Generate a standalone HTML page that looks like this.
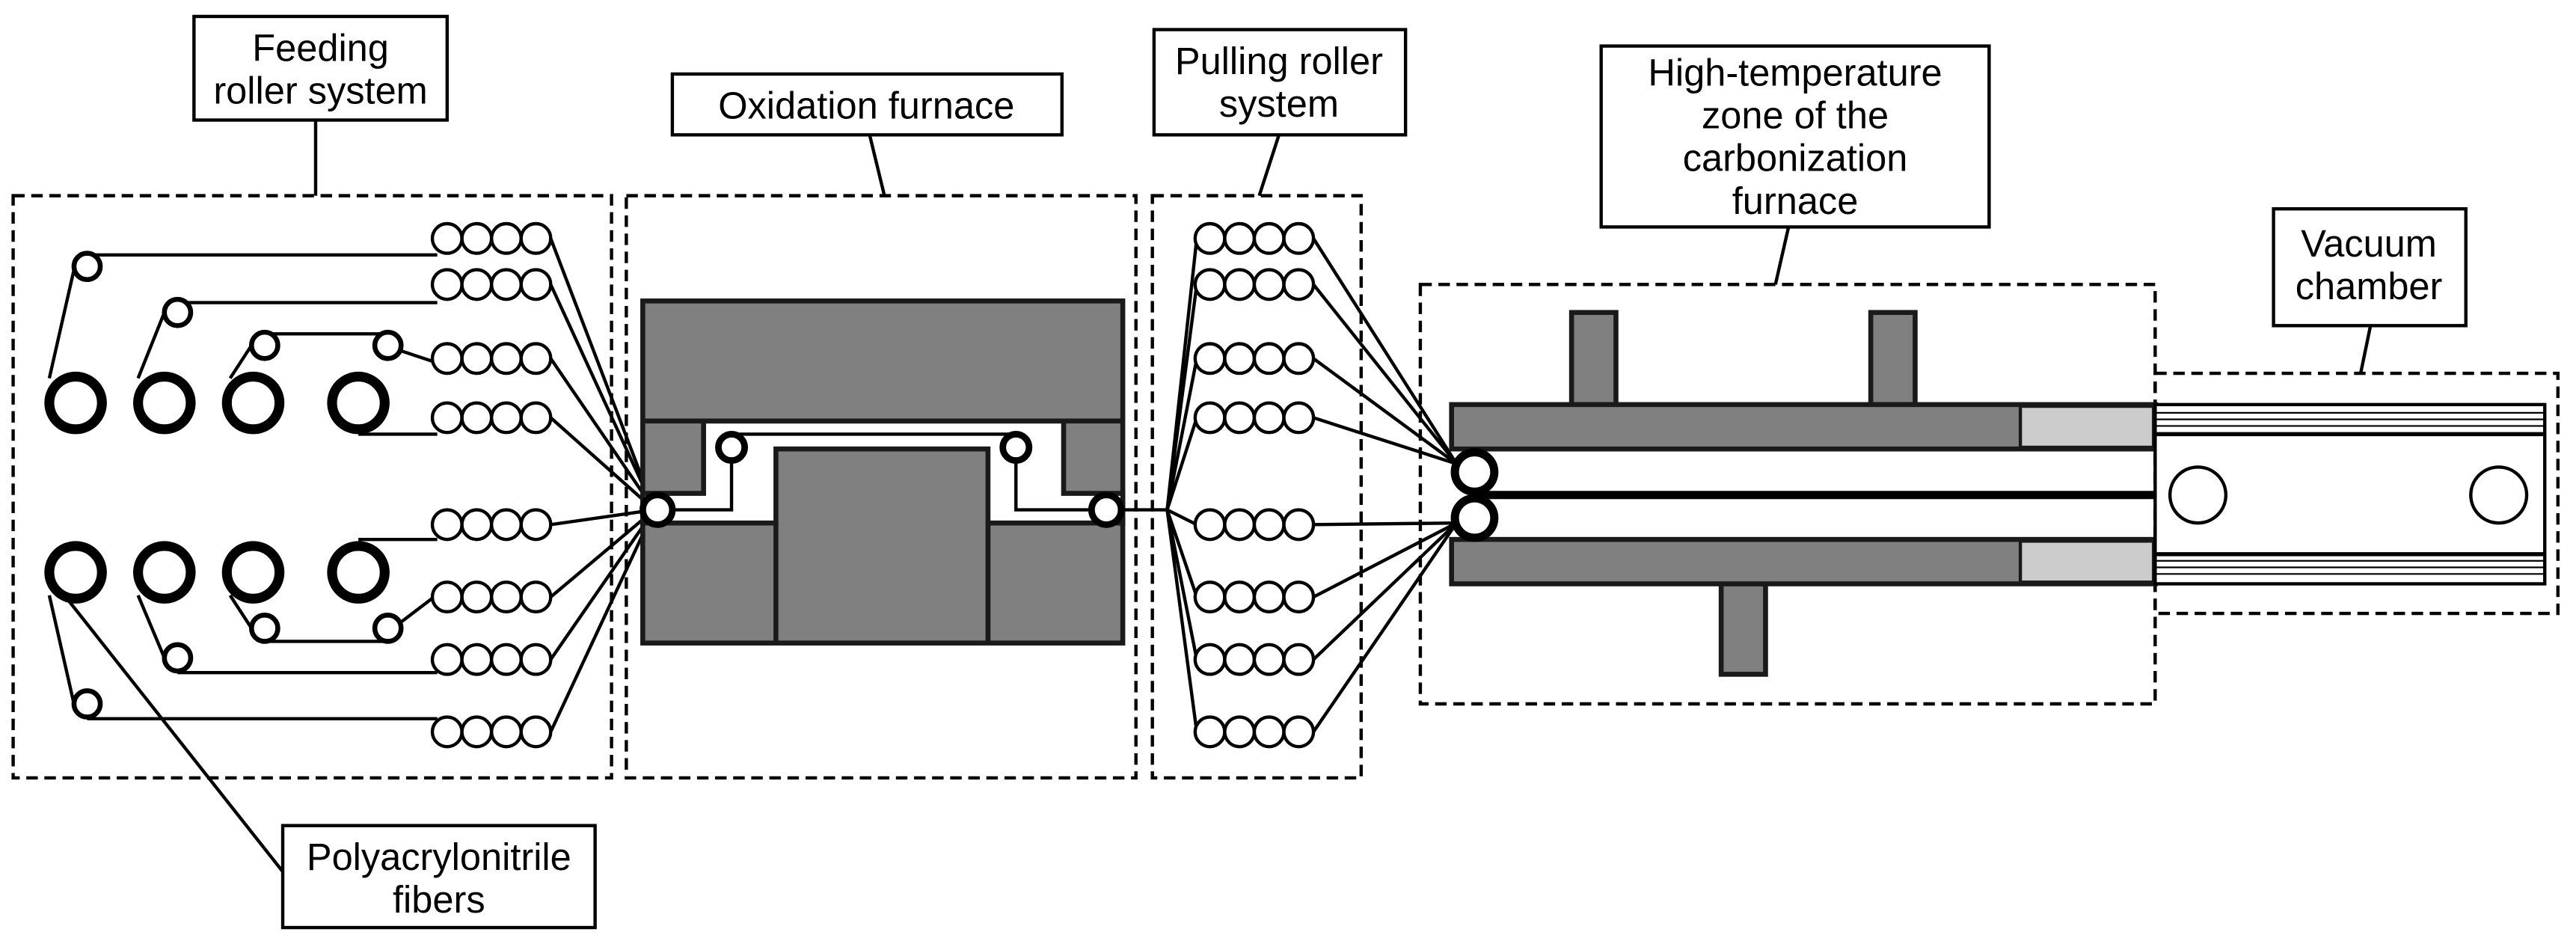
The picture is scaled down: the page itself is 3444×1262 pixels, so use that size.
<!DOCTYPE html>
<html><head><meta charset="utf-8"><style>html,body{margin:0;padding:0;background:#fff}svg{display:block}</style></head><body>
<svg width="3444" height="1262" viewBox="0 0 1567 574" preserveAspectRatio="none" xmlns="http://www.w3.org/2000/svg" font-family="Liberation Sans, sans-serif" font-size="23">
<rect width="1567" height="574" fill="#fff"/>
<g fill="none" stroke="#000" stroke-width="2" stroke-dasharray="7,4">
<rect x="8" y="119" width="364" height="354"/>
<rect x="381" y="119" width="310" height="354"/>
<rect x="701" y="119" width="127" height="354"/>
<rect x="864" y="173" width="447" height="255"/>
<rect x="1311" y="227" width="245" height="146"/>
</g>
<g fill="#fff" stroke="#000" stroke-width="2">
<rect x="118" y="10" width="154" height="63"/>
<rect x="409" y="45" width="237" height="37"/>
<rect x="702" y="18" width="153" height="64"/>
<rect x="974" y="28" width="236" height="110"/>
<rect x="1383" y="127" width="117" height="71"/>
<rect x="172" y="502" width="190" height="62"/>
</g>
<g stroke="#000" stroke-width="2" fill="none">
<line x1="192" y1="73" x2="192" y2="119"/>
<line x1="529" y1="82" x2="538" y2="119"/>
<line x1="778" y1="82" x2="766" y2="119"/>
<line x1="1088" y1="138" x2="1080" y2="173"/>
<line x1="1442" y1="198" x2="1436" y2="227"/>
<line x1="172" y1="530" x2="40" y2="363"/>
</g>
<g text-anchor="middle" fill="#000">
<text x="195" y="37">Feeding</text><text x="195" y="63">roller system</text>
<text x="527" y="72">Oxidation furnace</text>
<text x="778" y="45">Pulling roller</text><text x="778" y="71">system</text>
<text x="1092" y="52">High-temperature</text><text x="1092" y="78">zone of the</text><text x="1092" y="104">carbonization</text><text x="1092" y="130">furnace</text>
<text x="1441" y="156">Vacuum</text><text x="1441" y="182">chamber</text>
<text x="267" y="529">Polyacrylonitrile</text><text x="267" y="555">fibers</text>
</g>
<g stroke="#000" stroke-width="2" fill="none">
<line x1="53" y1="155" x2="266" y2="155"/>
<line x1="108" y1="184" x2="266" y2="184"/>
<line x1="161" y1="203" x2="236" y2="203"/>
<line x1="243" y1="213" x2="264" y2="220"/>
<line x1="218" y1="264" x2="266" y2="264"/>
<line x1="30" y1="230" x2="45" y2="164"/>
<line x1="84" y1="230" x2="100" y2="190"/>
<line x1="140" y1="230" x2="153" y2="210"/>
<line x1="218" y1="328" x2="266" y2="328"/>
<line x1="243" y1="379" x2="264" y2="363"/>
<line x1="161" y1="390" x2="236" y2="390"/>
<line x1="108" y1="409" x2="266" y2="409"/>
<line x1="53" y1="437" x2="266" y2="437"/>
<line x1="30" y1="362" x2="45" y2="428"/>
<line x1="84" y1="362" x2="100" y2="400"/>
<line x1="140" y1="362" x2="153" y2="382"/>
<line x1="335" y1="145" x2="398" y2="310"/><line x1="335" y1="173" x2="398" y2="310"/><line x1="335" y1="218" x2="398" y2="310"/><line x1="335" y1="254" x2="398" y2="310"/>
<line x1="335" y1="319" x2="398" y2="310"/><line x1="335" y1="363" x2="398" y2="310"/><line x1="335" y1="401" x2="398" y2="310"/><line x1="335" y1="445" x2="398" y2="310"/>
</g>
<g fill="#fff" stroke="#000" stroke-width="6">
<circle cx="46" cy="245" r="16"/><circle cx="100" cy="245" r="16"/><circle cx="154" cy="245" r="16"/><circle cx="218" cy="245" r="16"/>
<circle cx="46" cy="348" r="16"/><circle cx="100" cy="348" r="16"/><circle cx="154" cy="348" r="16"/><circle cx="218" cy="348" r="16"/>
</g>
<g fill="#fff" stroke="#000" stroke-width="3">
<circle cx="53" cy="162" r="8"/><circle cx="108" cy="190" r="8"/><circle cx="161" cy="210" r="8"/><circle cx="236" cy="210" r="8"/>
<circle cx="53" cy="428" r="8"/><circle cx="108" cy="400" r="8"/><circle cx="161" cy="382" r="8"/><circle cx="236" cy="382" r="8"/>
</g>
<defs><g id="grp" fill="#fff" stroke="#000" stroke-width="2"><circle cx="0" cy="0" r="9"/><circle cx="18" cy="0" r="9"/><circle cx="36" cy="0" r="9"/><circle cx="54" cy="0" r="9"/></g></defs>
<g transform="translate(272,0)">
<use href="#grp" y="145"/><use href="#grp" y="173"/><use href="#grp" y="218"/><use href="#grp" y="254"/>
<use href="#grp" y="319"/><use href="#grp" y="363"/><use href="#grp" y="401"/><use href="#grp" y="445"/>
</g>
<rect x="391" y="183" width="292" height="208" fill="#808080" stroke="#1a1a1a" stroke-width="3"/>
<path d="M428,256 H647 V300 H683 V318 H601 V273 H472 V318 H391 V300 H428 Z" fill="#fff" stroke="#1a1a1a" stroke-width="3"/>
<g stroke="#1a1a1a" stroke-width="3" fill="none">
<line x1="391" y1="256" x2="683" y2="256"/>
<line x1="472" y1="318" x2="472" y2="391"/><line x1="601" y1="318" x2="601" y2="391"/>
</g>
<g stroke="#000" stroke-width="2" fill="none">
<polyline points="400,310 445,310 445,272"/>
<line x1="445" y1="264" x2="618" y2="264"/>
<polyline points="618,272 618,310 673,310"/>
<line x1="673" y1="310" x2="710" y2="310"/>
</g>
<g fill="#fff" stroke="#000" stroke-width="4">
<circle cx="445" cy="272" r="8"/><circle cx="618" cy="272" r="8"/>
<circle cx="400" cy="310" r="9"/><circle cx="673" cy="310" r="9"/>
</g>
<g stroke="#000" stroke-width="2" fill="none">
<line x1="710" y1="310" x2="728" y2="145"/><line x1="710" y1="310" x2="728" y2="173"/><line x1="710" y1="310" x2="728" y2="218"/><line x1="710" y1="310" x2="728" y2="254"/>
<line x1="710" y1="310" x2="728" y2="319"/><line x1="710" y1="310" x2="728" y2="363"/><line x1="710" y1="310" x2="728" y2="401"/><line x1="710" y1="310" x2="728" y2="445"/>
<line x1="799" y1="145" x2="886" y2="282"/><line x1="799" y1="173" x2="886" y2="282"/><line x1="799" y1="218" x2="886" y2="282"/><line x1="799" y1="254" x2="886" y2="282"/>
<line x1="799" y1="319" x2="886" y2="318"/><line x1="799" y1="363" x2="886" y2="318"/><line x1="799" y1="401" x2="886" y2="318"/><line x1="799" y1="445" x2="886" y2="318"/>
</g>
<g transform="translate(736,0)">
<use href="#grp" y="145"/><use href="#grp" y="173"/><use href="#grp" y="218"/><use href="#grp" y="254"/>
<use href="#grp" y="319"/><use href="#grp" y="363"/><use href="#grp" y="401"/><use href="#grp" y="445"/>
</g>
<g fill="#808080" stroke="#1a1a1a" stroke-width="3">
<rect x="956" y="190" width="27" height="56"/>
<rect x="1138" y="190" width="27" height="56"/>
<rect x="1047" y="355" width="27" height="55"/>
<rect x="883" y="246" width="428" height="27"/>
<rect x="883" y="328" width="428" height="27"/>
</g>
<g fill="#ccc" stroke="#1a1a1a" stroke-width="2">
<rect x="1229" y="247" width="81" height="25"/>
<rect x="1229" y="329" width="81" height="25"/>
</g>
<line x1="897" y1="301" x2="1311" y2="301" stroke="#000" stroke-width="5"/>
<g fill="#fff" stroke="#000" stroke-width="5">
<circle cx="897" cy="287" r="12"/><circle cx="897" cy="315" r="12"/>
</g>
<rect x="1311" y="246" width="237" height="109" fill="#fff" stroke="#000" stroke-width="2"/>
<g stroke="#000" stroke-width="1">
<line x1="1311" y1="251" x2="1548" y2="251"/><line x1="1311" y1="255" x2="1548" y2="255"/><line x1="1311" y1="259" x2="1548" y2="259"/>
<line x1="1311" y1="341" x2="1548" y2="341"/><line x1="1311" y1="345" x2="1548" y2="345"/><line x1="1311" y1="349" x2="1548" y2="349"/>
</g>
<g stroke="#000" stroke-width="2.5">
<line x1="1311" y1="264" x2="1548" y2="264"/><line x1="1311" y1="337" x2="1548" y2="337"/>
</g>
<g fill="#fff" stroke="#000" stroke-width="2">
<circle cx="1337" cy="301" r="17"/><circle cx="1520" cy="301" r="17"/>
</g>
</svg>
</body></html>
